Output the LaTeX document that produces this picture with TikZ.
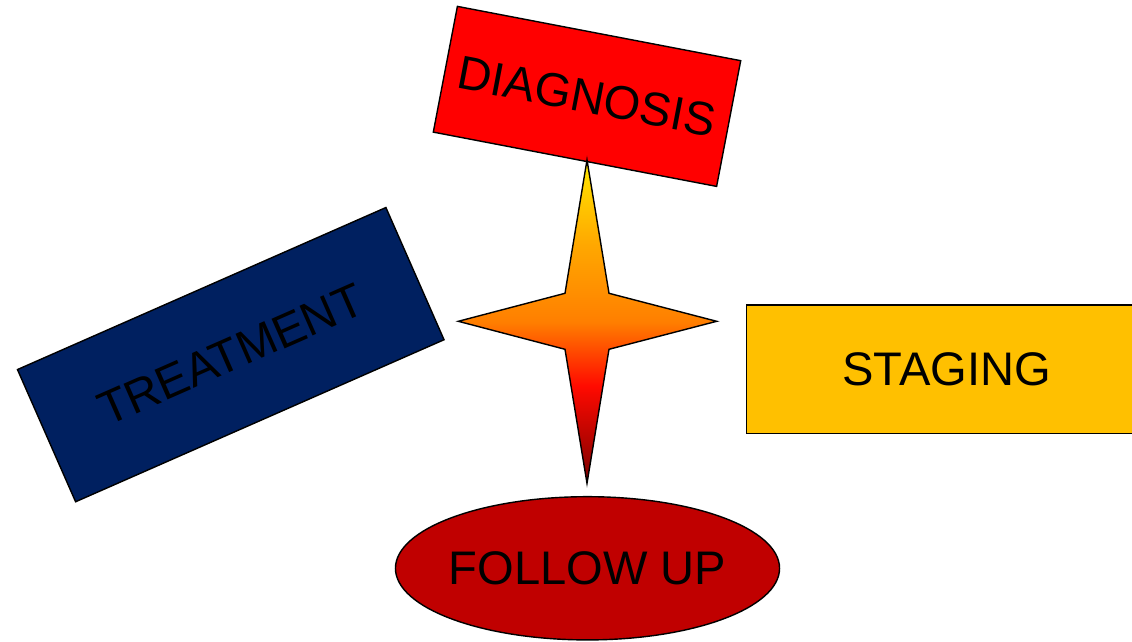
\documentclass[tikz,border=0pt]{standalone}
\usepackage{fontspec}
\setmainfont{Liberation Sans}
\usetikzlibrary{positioning,shapes.geometric}

\definecolor{diagred}{HTML}{FF0000}
\definecolor{treatblue}{HTML}{002060}
\definecolor{stageamber}{HTML}{FFC000}
\definecolor{followred}{HTML}{C00000}
\definecolor{startop}{HTML}{FFE800}
\definecolor{staramber}{HTML}{FFA800}
\definecolor{starorange}{HTML}{FF7F00}
\definecolor{starred}{HTML}{FF0A00}
\definecolor{starbot}{HTML}{7A0000}
\pgfdeclareverticalshading{starshade}{100bp}{color(0bp)=(starbot); color(25bp)=(starbot); color(40bp)=(starred); color(50bp)=(starorange); color(62bp)=(staramber); color(75bp)=(startop); color(100bp)=(startop)}

\begin{document}
\begin{tikzpicture}[x=0.025cm,y=-0.025cm]
		\tikzset{stage/.style={draw=black,line width=1pt,inner sep=0pt,font=\fontsize{33.5}{40}\selectfont}}
		\clip (0,0) rectangle (1132,642);

		\node[stage,fill=diagred,minimum width=7.21cm,minimum height=3.2cm,rotate=-10.85] (diag) at (587,96.4) {DIAGNOSIS};
		\node[stage,fill=treatblue,minimum width=10.06cm,minimum height=3.61cm,rotate=23.74] (treat) at (230.75,354.65) {TREATMENT};
		\node[stage,fill=stageamber,minimum width=10cm,minimum height=3.21cm] (staging) at (946.7,369.2) {STAGING};
		\node[stage,ellipse,fill=followred,inner xsep=-0.08cm,minimum width=9.6cm,minimum height=3.58cm] (follow) at (587.5,568.3) {FOLLOW UP};

		\coordinate (hub) at (587,321.3);
		\begin{scope}[shift={(hub)}]
			\shade[shading=starshade,draw=black,line width=1pt]
				(0,-161.3) -- (22,-28) -- (129.7,0) -- (22,28) -- (0,162) -- (-22,28) -- (-128.7,0) -- (-22,-28) -- cycle;
		\end{scope}
	\end{tikzpicture}
\end{document}
